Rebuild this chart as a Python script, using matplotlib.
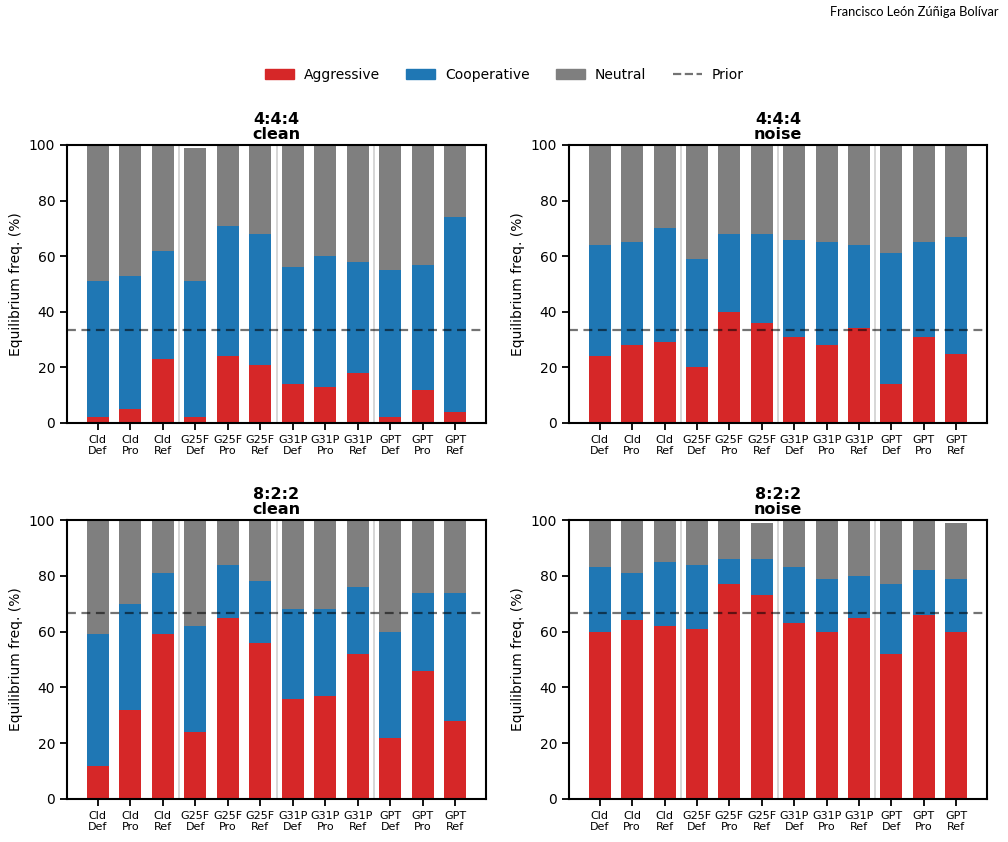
import matplotlib
matplotlib.use("Agg")
import matplotlib.pyplot as plt
from matplotlib.patches import Patch
from matplotlib.lines import Line2D
import numpy as np

categories = ["Cld\nDef", "Cld\nPro", "Cld\nRef",
              "G25F\nDef", "G25F\nPro", "G25F\nRef",
              "G31P\nDef", "G31P\nPro", "G31P\nRef",
              "GPT\nDef", "GPT\nPro", "GPT\nRef"]

# 4:4:4 clean
agg_444_clean = [2, 5, 23, 2, 24, 21, 14, 13, 18, 2, 12, 4]
coop_444_clean = [49, 48, 39, 49, 47, 47, 42, 47, 40, 53, 45, 70]
neut_444_clean = [49, 47, 38, 48, 29, 32, 44, 40, 42, 45, 43, 26]

# 4:4:4 noise
agg_444_noise = [24, 28, 29, 20, 40, 36, 31, 28, 34, 14, 31, 25]
coop_444_noise = [40, 37, 41, 39, 28, 32, 35, 37, 30, 47, 34, 42]
neut_444_noise = [36, 35, 30, 41, 32, 32, 34, 35, 36, 39, 35, 33]

# 8:2:2 clean
agg_822_clean = [12, 32, 59, 24, 65, 56, 36, 37, 52, 22, 46, 28]
coop_822_clean = [47, 38, 22, 38, 19, 22, 32, 31, 24, 38, 28, 46]
neut_822_clean = [41, 30, 19, 38, 16, 22, 32, 32, 24, 40, 26, 26]

# 8:2:2 noise
agg_822_noise = [60, 64, 62, 61, 77, 73, 63, 60, 65, 52, 66, 60]
coop_822_noise = [23, 17, 23, 23, 9, 13, 20, 19, 15, 25, 16, 19]
neut_822_noise = [17, 19, 15, 16, 14, 13, 17, 21, 20, 23, 18, 20]

prior_444 = 100 / 3
prior_822 = 200 / 3

panels = [
    ("4:4:4\nclean", agg_444_clean, coop_444_clean, neut_444_clean, prior_444),
    ("4:4:4\nnoise", agg_444_noise, coop_444_noise, neut_444_noise, prior_444),
    ("8:2:2\nclean", agg_822_clean, coop_822_clean, neut_822_clean, prior_822),
    ("8:2:2\nnoise", agg_822_noise, coop_822_noise, neut_822_noise, prior_822),
]

C_AGG = "#d62728"
C_COOP = "#1f77b4"
C_NEUT = "#7f7f7f"

fig = plt.figure(figsize=(10.08, 8.42), dpi=100)
W, H = 1008, 842
positions = [(67, 145, 486, 423), (569, 145, 987, 423),
             (67, 520, 486, 799), (569, 520, 987, 799)]

x = np.arange(len(categories))
for (title, agg, coop, neut, prior), (l, t, r, b) in zip(panels, positions):
    ax = fig.add_axes([l / W, 1 - b / H, (r - l) / W, (b - t) / H])
    for sep in (2.5, 5.5, 8.5):
        ax.axvline(sep, color="#d0d0d0", lw=1.2, zorder=0)
    agg = np.array(agg, float)
    coop = np.array(coop, float)
    neut = np.array(neut, float)
    ax.bar(x, agg, width=0.68, color=C_AGG, zorder=2)
    ax.bar(x, coop, width=0.68, bottom=agg, color=C_COOP, zorder=2)
    ax.bar(x, neut, width=0.68, bottom=agg + coop, color=C_NEUT, zorder=2)
    ax.axhline(prior, color="black", ls="--", lw=1.6, alpha=0.55, zorder=3,
               dashes=(4, 2.5))
    ax.set_xlim(-0.95, 11.95)
    ax.set_ylim(0, 100)
    ax.set_xticks(x)
    ax.set_xticklabels(categories, fontsize=8, linespacing=1.1)
    ax.set_yticks([0, 20, 40, 60, 80, 100])
    ax.tick_params(axis="y", labelsize=10, width=1.3, length=5)
    ax.tick_params(axis="x", width=1.3, length=5)
    for s in ax.spines.values():
        s.set_linewidth(1.5)
    ax.set_ylabel("Equilibrium freq. (%)", fontsize=10)
    ax.set_title(title, fontsize=11.5, fontweight="bold", linespacing=1.0, pad=4)

handles = [Patch(color=C_AGG, label="Aggressive"),
           Patch(color=C_COOP, label="Cooperative"),
           Patch(color=C_NEUT, label="Neutral"),
           Line2D([0], [0], color="black", alpha=0.55, ls="--", lw=1.6, label="Prior")]
fig.legend(handles=handles, loc="center", bbox_to_anchor=(0.5, 1 - 75 / H),
           ncol=4, frameon=False, fontsize=10, handlelength=2.1,
           handletextpad=0.7, columnspacing=1.9)

fig.text(1 - 10 / W, 1 - 12 / H, "Francisco León Zúñiga Bolívar",
         ha="right", va="center", fontsize=9.3, family="Lato")

fig.savefig("out.png", dpi=100)
